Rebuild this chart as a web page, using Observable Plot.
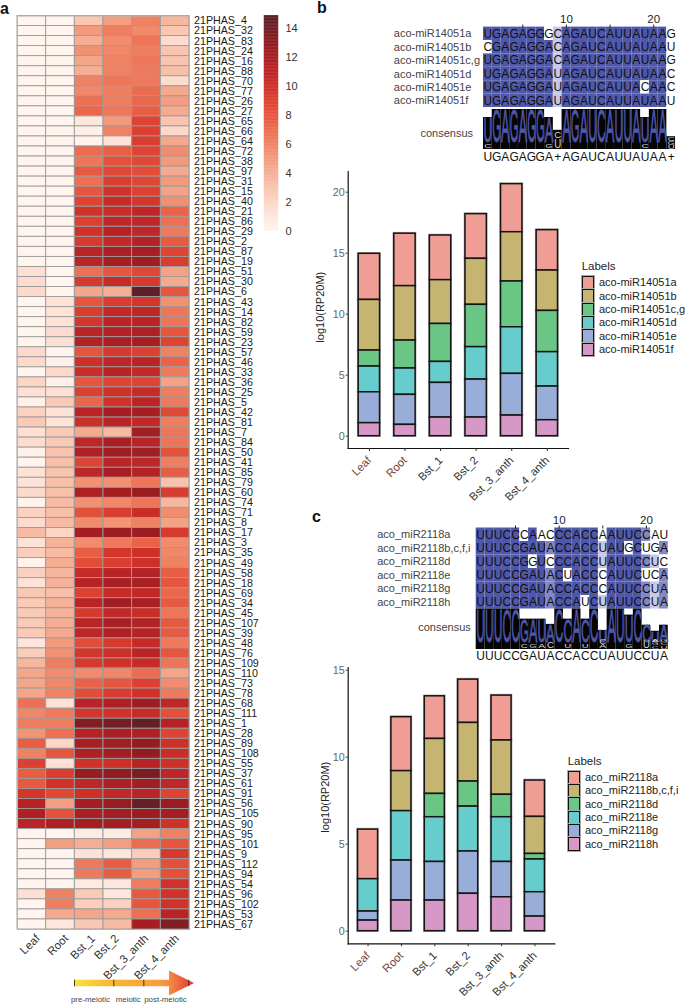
<!DOCTYPE html>
<html><head><meta charset="utf-8">
<script src="https://cdn.jsdelivr.net/npm/d3@7"></script>
<script src="https://cdn.jsdelivr.net/npm/@observablehq/plot@0.6"></script>
<style>
html,body{margin:0;padding:0;background:#fff}
#page{position:relative;width:685px;height:1004px;overflow:hidden;font-family:"Liberation Sans",Arial,sans-serif}
#page svg{position:absolute;left:0;top:0}
.t{position:absolute;white-space:nowrap;color:#222;line-height:1}
.sw{position:absolute;box-sizing:border-box;border:1.6px solid #111;outline:.6px solid #aaa}
</style></head><body><div id="page"></div>
<script>
const stages = ["Leaf","Root","Bst_1","Bst_2","Bst_3_anth","Bst_4_anth"];
const phasIds = [4,32,83,24,16,88,70,77,26,27,65,66,64,72,38,97,31,15,40,21,86,29,2,87,19,51,30,6,43,14,82,59,23,57,46,33,36,25,5,42,81,7,84,50,41,85,79,60,74,71,8,17,3,35,49,58,18,69,34,45,107,39,48,76,109,110,73,78,68,111,1,28,89,108,55,37,61,91,56,105,90,95,101,9,112,94,54,96,102,53,67];
const heatValues = [
[0,0,2.8,4.8,6,3.6],[0,0,5,6.2,5.7,2.8],[0,0,4,5.6,6.6,1.6],[0,0,5.4,5.8,6.2,2.9],[0,0,4.4,6,6.5,3],
[0,0,4,6,6.4,3.2],[0,0,6,6.6,6.4,1.6],[0,0,5.8,6.2,7,4.3],[0,0,6.8,6.2,7.2,4.8],[0,0,7.2,6.5,7.6,4.2],
[0,0,.9,5,8.8,3],[0,0,.3,6,9,1.8],[0,0,.1,1.2,9.2,4.3],[0,0,7,7.6,8.8,5.6],[0,0,6.6,8.2,8.6,5],
[0,0,7.8,8.6,8.4,4.2],[0,0,6.8,9.2,8.6,5],[0,0,8,9.8,9,4.6],[0,0,8.8,10.4,9.6,5.4],[0,0,9.8,10.2,10.8,7.4],
[0,0,9,10.8,10.8,6.8],[0,0,9.8,11.2,10.8,6.4],[0,0,9.4,10.6,11.4,7.8],[0,0,11,11.8,12,8.8],[0,0,11,12,12.3,9.2],
[1.4,0,6.8,8,8.6,4.6],[1.6,0,9.4,10.4,9.4,4.2],[1.8,0,4.4,4,14.7,8],[0,1.3,8,9.2,9.6,5.4],[0,1.3,9.2,10.6,10.8,6.6],
[0,1.3,9.6,11,11,6.6],[0,1.6,11,11.4,11.6,8],[0,1.4,11.4,11.8,12,8.8],[1.8,0,8,9.4,9,6],[1.8,.2,10,10.8,11,7.4],
[0,1.8,10.2,11.2,10.6,6.4],[2,.2,8,8.8,8.8,4.6],[1.4,1.4,9,9.8,10.4,6.2],[.2,2.6,7.2,9.8,11,6.4],[2.2,1.3,11,12,12,8.6],
[2.6,1.3,10,11,10.6,6.2],[1.4,2.6,4.2,3.5,12.2,6.6],[1.6,2.6,10.8,11.8,11,6.6],[.2,3,11.6,12.3,12.2,8.2],[0,3.2,8.8,11,10.8,6.2],
[1.2,3,10.8,12,11.4,7.6],[1.2,3.2,5.4,5.4,6.6,3],[1.8,3.2,11.6,12,12.4,9.2],[.1,3.4,5.4,5.8,6.6,3.6],[2.2,3.2,8.2,9.2,10.2,5.6],
[1.6,3.4,5.6,5.2,6,4.6],[3.4,2,12,12.4,12.4,9.4],[1.2,3.8,5.6,6.4,7.4,5.6],[2.4,3.4,7.6,9.6,10,5.8],[.1,4,8.4,9.2,10,6],
[2.3,3.6,10.4,11,11.4,7.6],[1.2,3.8,11.2,11.8,11.8,8],[2.8,3.2,9,10.4,10.6,7.2],[2.6,3.8,11,12.2,11.8,7.8],[2.6,3.8,9.4,10.6,10.2,6.6],
[2.6,4,11,11.8,11.4,7.8],[2.6,4.2,10.8,11.6,11.2,7.8],[1,5,8.4,9.4,10.4,6.4],[2.4,5.4,9.6,10,11,8],[3.6,6.2,9.4,9.8,10.4,6.6],
[4.4,5.6,5.6,5.8,7,4.4],[4.4,5.8,7.4,8,9,5.6],[4.4,6,8.4,9.2,9.8,6.4],[6.8,1.3,11,11.6,12.4,10.8],[5.8,6.4,9.6,9.8,10.4,8.2],
[6.2,6.2,13.4,13.8,14.6,11.4],[5.2,6.8,11.2,11.8,11.6,8.8],[7.6,2,11.8,12.2,12.8,10],[6,8,11.6,12.2,12.8,10.2],[9,1.3,9.8,10,11.2,10],
[7.6,9.2,12.6,13,13.6,10.8],[7.8,9.8,10.8,11.6,12.2,10.8],[9.6,8.6,10,10.6,11,8.8],[11.2,4.8,12,12.6,14.4,12.6],[11.6,8.2,11.8,12.2,12.4,12],
[11,11.6,12,12.2,12.1,9.8],[0,0,.6,.7,4.6,6],[0,4.8,4,4.8,7,8],[0,0,1.2,1,2.4,9.4],[0,0,6.4,7.6,4.8,8.2],
[0,0,6.4,7.6,4.8,8.2],[0,0,.8,1,6.2,9.8],[1.4,6,2.6,1,7.8,9.8],[0,6.2,2.4,2.2,8,9.8],[0,4.2,4.4,4.2,6.8,11],[0,1,2.8,3.4,12,13.4]
];
const heatDomain = [0,1,2,3,4,5,6,7,8,9,10,11,12,13,14,14.85];
const heatRange = ["#fff4ee","#fde7dc","#fcd5c5","#f9c3ae","#f5ae94","#f39a7c","#f08264","#ec6c50","#e6553e","#dc4030","#cd2f29","#bb2426","#a61e22","#8e1c20","#6e2026","#5a2028"];
const barFills = ["#f09d95","#c5b570","#69c684","#66cccc","#98aed8","#d698c6"];

const labelsB = ["aco-miR14051a","aco-miR14051b","aco-miR14051c,g","aco-miR14051d","aco-miR14051e","aco-miR14051f"];
const barA_b = [3.78,4.3,3.66,3.66,3.94,3.31];
const barB_b = [4.15,4.46,3.59,3.77,4.04,3.31];
const barC_b = [1.31,2.29,3.11,3.47,3.75,3.38];
const barD_b = [2.11,2.16,1.72,2.66,3.82,2.82];
const barE_b = [2.53,2.46,2.84,3.11,3.42,2.76];
const barF_b = [1.07,.93,1.53,1.53,1.69,1.31];

const labelsC = ["aco_miR2118a","aco_miR2118b,c,f,i","aco_miR2118d","aco_miR2118e","aco_miR2118g","aco_miR2118h"];
const barA_c = [2.85,3.1,2.45,2.49,2.58,2.09];
const barB_c = [0,2.3,3.16,3.37,3.12,2.13];
const barD_c = [0,0,1.34,1.44,1.29,.32];
const barE_c = [1.86,2.84,2.57,2.58,2.57,1.88];
const barG_c = [.52,2.3,2.22,2.43,2.03,1.4];
const barH_c = [.61,1.76,1.76,2.15,1.95,.84];

const seqsB = ["UGAGAGGGCAGAUCAUUAUAAG","CGAGAGGACAGAUCAUUAUAAU","UGAGAGGACAGAUCAUUAUAAG","UGAGAGGAUAGAUCAUUAUAAC","UGAGAGGAUAGAUCAUUACAAC","UGAGAGGAUAGAUCAUUAUAAU"];
const seqsC = ["UUUCCCAACCCACCAAUUCCAU","UUUCCGAUACCACCUAUGCUGA","UUUCCGGUCCCACCUAUUCCUC","UUUCCGAUACUACCCAUUCUCA","UUUCCGAUACCACCCAUUCCUA","UUUCCGAUACCAUCUAUUCCUA"];
const consensusB = "UGAGAGGA+AGAUCAUUAUAA+";
const consensusC = "UUUCCGAUACCACCUAUUCCUA";
const logoMainB = "UGAGAGGA AGAUCAUUAUAA ";
const logoHeightB = [.8,1,1,1,1,1,1,.8,.48,1,1,1,1,1,1,1,1,1,.8,1,1,.32];
const logoMinorB = [[1,"C",.04,.15],[8,"G",.04,.15],[9,"U",.03,.27],[9,"C",.29,.45],[19,"C",.04,.15],[22,"U",.02,.1],[22,"G",.11,.2],[22,"C",.21,.3]];
const logoMainC = "UUUCCGAUACCACCUAUUCCUA";
const logoHeightC = [1,1,1,1,1,.75,.75,.75,.62,1,.75,1,.75,1,.47,1,1,.85,1,.6,.45,.6];
const logoMinorC = [[6,"C",.04,.13],[7,"G",.04,.13],[8,"A",.04,.13],[9,"C",.04,.2],[11,"U",.04,.13],[13,"U",.04,.13],[15,"A",.03,.13],[15,"C",.14,.26],[18,"G",.04,.13],[20,"U",.04,.22],[21,"C",.02,.09],[21,"G",.1,.17],[21,"A",.18,.25],[22,"U",.02,.09],[22,"C",.1,.17],[22,"G",.18,.25]];

const arrowStages = ["pre-meiotic","meiotic","post-meiotic"];

const FONT = '"Liberation Sans",Arial,sans-serif';
const page = document.getElementById("page");
const W = 685, H = 1004;
const base = {width:W, height:H, style:{background:"none",fontFamily:FONT,overflow:"visible"}};
function add(opts){ const p = Plot.plot({...base, ...opts}); page.appendChild(p); return p; }
function html(cls, text, left, top, css){
  const d = document.createElement("div"); d.className = cls; if (text) d.textContent = text;
  d.style.left = left+"px"; d.style.top = top+"px"; Object.assign(d.style, css||{}); page.appendChild(d); return d;
}

/* a: heatmap */
const heatLong = phasIds.flatMap((id,i)=>stages.map((s,j)=>({id:"21PHAS_"+id, stage:s, v:heatValues[i][j]})));
const heatShift = {Leaf:6, Root:6, Bst_1:4, Bst_2:-1, Bst_3_anth:0, Bst_4_anth:2};
const colorScale = {type:"linear", domain:heatDomain, range:heatRange};
add({
  marginLeft:17, marginRight:W-189, marginTop:15.5, marginBottom:H-929,
  x:{domain:stages, padding:0, round:false, label:null, axis:null},
  y:{domain:phasIds.map(d=>"21PHAS_"+d), padding:0, round:false, label:null},
  color:colorScale,
  marks:[
    Plot.cell(heatLong,{x:"stage",y:"id",fill:"v",stroke:"#9b9b9b",strokeWidth:.9}),
    Plot.frame({stroke:"#b4b4b4",strokeWidth:1}),
    Plot.axisY({anchor:"right",tickSize:0,tickPadding:4.5,fontSize:10.7,color:"#1a1a1a",label:null}),
    ...stages.map(s=>Plot.text([s],{x:d=>d,frameAnchor:"bottom",lineAnchor:"middle",dx:heatShift[s],dy:7,rotate:-45,textAnchor:"end",fontSize:11.5,fill:"#333"}))
  ]
});

/* colour bar */
const barSteps = d3.range(0,14.85,.1);
add({
  marginLeft:264, marginRight:W-278, marginTop:15.3, marginBottom:H-230.7,
  x:{domain:[0,1],label:null,axis:null},
  y:{domain:[0,14.85],label:null},
  color:colorScale,
  marks:[
    Plot.rect(barSteps,{x1:()=>0,x2:()=>1,y1:d=>d,y2:d=>Math.min(d+.1,14.85),fill:d=>d,stroke:d=>d,strokeWidth:.4}),
    Plot.axisY({anchor:"right",ticks:[0,2,4,6,8,10,12,14],tickSize:0,tickPadding:7,fontSize:11,color:"#333",label:null})
  ]
});

/* stage arrow */
const arrowOutline = [{x:0,h:3.3},{x:95,h:3.3},{x:95,h:12.5},{x:120,h:0}];
const arrowTicks = [0,39.3,69.3,114.3];
const labelAt = [16,53.7,91];
function gradDefs(){
  const ns="http://www.w3.org/2000/svg";
  const defs=document.createElementNS(ns,"defs"), g=document.createElementNS(ns,"linearGradient");
  g.setAttribute("id","arrowGrad");
  [[0,"#f8e23c"],[.3,"#f9b732"],[.7,"#f6a03c"],[.8,"#f18a42"],[.92,"#e8563c"],[1,"#e2333a"]].forEach(([o,c])=>{
    const s=document.createElementNS(ns,"stop"); s.setAttribute("offset",o); s.setAttribute("stop-color",c); g.appendChild(s);
  });
  defs.appendChild(g); return defs;
}
add({
  marginLeft:74, marginRight:W-194, marginTop:970.5, marginBottom:H-995.5,
  x:{domain:[0,120],axis:null}, y:{domain:[-12.5,12.5],axis:null},
  marks:[
    gradDefs,
    Plot.areaY(arrowOutline,{x:"x",y1:d=>-d.h,y2:d=>d.h,fill:"url(#arrowGrad)"}),
    Plot.ruleX(arrowTicks,{x:d=>d,y1:-3.3,y2:3.3,stroke:"#3a2a10",strokeWidth:.9}),
    Plot.text(arrowStages,{x:(d,i)=>labelAt[i],y:-16,text:d=>d,fontSize:7.9,fill:"#444"})
  ]
});

/* stacked bars */
function stackedPanel({labels,series,left,right,top,bottom,y0,unit,ticks,yLabelX,yLabelY}){
  const long = labels.flatMap((l,k)=>stages.map((s,j)=>({label:l,stage:s,v:series[k][j]})));
  const order = labels.slice().reverse();
  const domain = [(y0-bottom)/unit,(y0-top)/unit];
  add({
    marginLeft:left, marginRight:W-right, marginTop:top, marginBottom:H-bottom,
    x:{domain:stages,padding:.4,paddingOuter:.295,round:false,label:null},
    y:{domain,label:null},
    color:{domain:labels,range:barFills},
    marks:[
      Plot.barY(long,{x:"stage",y:"v",z:"label",order,stroke:"#b0b0b0",strokeWidth:2.6}),
      Plot.barY(long,{x:"stage",y:"v",z:"label",order,fill:"label",stroke:"#141414",strokeWidth:1.5}),
      Plot.frame({anchor:"left",stroke:"#111",strokeWidth:1.2}),
      Plot.frame({anchor:"bottom",stroke:"#111",strokeWidth:1.2}),
      Plot.axisY({ticks,tickSize:2,tickPadding:1.5,fontSize:10.8,color:"#666",label:null,stroke:"#333"}),
      Plot.axisX({tickSize:3,tickFormat:()=>"",label:null,stroke:"#333"}),
      Plot.text(stages,{x:d=>d,frameAnchor:"bottom",lineAnchor:"middle",dy:10,rotate:-45,textAnchor:"end",fontSize:11.3,
        fill:d=>(d==="Leaf"||d==="Root")?"#7a3d30":"#333"}),
      Plot.text(["log10(RP20M)"],{y:()=>(y0-yLabelY)/unit,frameAnchor:"left",textAnchor:"middle",lineAnchor:"middle",dx:yLabelX-left,rotate:-90,fontSize:11,fill:"#222"})
    ]
  });
}
stackedPanel({labels:labelsB,series:[barA_b,barB_b,barC_b,barD_b,barE_b,barF_b],
  left:347.7,right:568,top:171,bottom:448,y0:435.7,unit:12.2,ticks:[0,5,10,15,20],yLabelX:320,yLabelY:306.7});
stackedPanel({labels:labelsC,series:[barA_c,barB_c,barD_c,barE_c,barG_c,barH_c],
  left:347.7,right:554.3,top:667,bottom:943.3,y0:930.7,unit:17.4,ticks:[0,5,10,15],yLabelX:325,yLabelY:796.7});

function legend(labels,x,ty,rowYs,textX){
  html("t","Labels",x,ty-6,{fontSize:"11.5px"});
  labels.forEach((l,i)=>{
    html("sw","",x,rowYs[i]-6.7,{width:"12.6px",height:"13.4px",background:barFills[i]});
    html("t",l,textX,rowYs[i]-5.5,{fontSize:"11px",color:"#222"});
  });
}
legend(labelsB,581.7,267,[282.7,296,309.3,322.7,336,349.3],599);
legend(labelsC,567.7,762.3,[777.3,790.7,804,817.3,830.7,844],585);

/* alignments */
function alignment({seqs,names,consensus,logoMain,logoHeight,logoMinor,x0,top,bottom,labelX,consLabelX,consLabelY,logoTop,logoBottom,consY}){
  const positions = d3.range(1,23);
  const x1 = x0 + 22*8.73;
  const cells = [];
  seqs.forEach((s,r)=>{
    [...s].forEach((ch,i)=>{
      const share = seqs.filter(q=>q[i]===ch).length/seqs.length;
      const shade = share>.8?"#4f57ab":share>.6?"#8287c6":share>.4?"#c5c8e7":"#ffffff";
      cells.push({pos:i+1,row:names[r],ch,shade});
    });
  });
  add({
    marginLeft:x0, marginRight:W-x1, marginTop:top, marginBottom:H-bottom,
    x:{domain:positions,padding:0,round:false,label:null},
    y:{domain:names,padding:0,round:false,label:null,axis:null},
    marks:[
      Plot.cell(cells,{x:"pos",y:"row",fill:d=>d.shade}),
      Plot.text(cells,{x:"pos",y:"row",text:"ch",fontSize:12,fill:"#111"}),
      Plot.text(names,{y:d=>d,frameAnchor:"left",lineAnchor:"middle",dx:labelX-x0,textAnchor:"start",fontSize:11,fill:"#444"}),
      Plot.axisX({anchor:"top",ticks:[5,10,15,20],tickSize:3,tickPadding:1,fontSize:11.5,color:"#222",
        tickFormat:d=>d%10===0?d:"",label:null})
    ]
  });
  const logoH = logoBottom-logoTop;
  const fs = (a,b)=>(b-a)*logoH/.72;
  const main = positions.map((p,i)=>({pos:p,ch:logoMain[i],a:.18,b:logoHeight[i]})).filter(d=>d.ch!==" ");
  const minor = logoMinor.map(([pos,ch,a,b])=>({pos,ch,a,b}));
  const logo = add({
    marginLeft:x0, marginRight:W-x1, marginTop:logoTop, marginBottom:H-logoBottom,
    x:{domain:positions,padding:0,round:false,label:null,axis:null},
    y:{domain:[0,1],axis:null},
    marks:[
      Plot.barY(positions,{x:d=>d,y:(d,i)=>logoHeight[i],fill:"#050505"}),
      Plot.text(main,{x:"pos",y:"a",text:"ch",lineAnchor:"bottom",fontSize:d=>fs(d.a,d.b),fill:"#4f56ad",stroke:"#4f56ad",strokeWidth:.8}),
      Plot.text(minor,{x:"pos",y:"a",text:"ch",lineAnchor:"bottom",fontSize:d=>fs(d.a,d.b),fill:"#d8d8d8"}),
      Plot.text([...consensus].map((ch,i)=>({ch,pos:i+1})),{x:"pos",frameAnchor:"bottom",lineAnchor:"middle",dy:consY-logoBottom,text:"ch",fontSize:12,fill:"#111"}),
      Plot.text(["consensus"],{frameAnchor:"left",lineAnchor:"middle",dx:consLabelX-x0,y:()=>(logoBottom-consLabelY)/logoH,textAnchor:"start",fontSize:11,fill:"#444"})
    ]
  });
  logo.querySelectorAll("text[font-size]").forEach(t=>{
    const big = +t.getAttribute("font-size")>=14;
    t.setAttribute("textLength",big?8.6:7);
    t.setAttribute("lengthAdjust","spacingAndGlyphs");
  });
}
alignment({seqs:seqsB,names:["aco-miR14051a","aco-miR14051b","aco-miR14051c,g","aco-miR14051d","aco-miR14051e","aco-miR14051f"],
  consensus:consensusB,logoMain:logoMainB,logoHeight:logoHeightB,logoMinor:logoMinorB,
  x0:483,top:26.6,bottom:107,labelX:393.3,consLabelX:420,consLabelY:133.3,logoTop:109,logoBottom:149,consY:157});
alignment({seqs:seqsC,names:["aco_miR2118a","aco_miR2118b,c,f,i","aco_miR2118d","aco_miR2118e","aco_miR2118g","aco_miR2118h"],
  consensus:consensusC,logoMain:logoMainC,logoHeight:logoHeightC,logoMinor:logoMinorC,
  x0:475.7,top:527.5,bottom:608.5,labelX:376.7,consLabelX:417.7,consLabelY:626.7,logoTop:608.5,logoBottom:649,consY:655.7});

/* panel letters */
html("t","a",0,1,{fontSize:"16px",fontWeight:"bold",color:"#111"});
html("t","b",317,0,{fontSize:"16px",fontWeight:"bold",color:"#111"});
html("t","c",312,509,{fontSize:"16px",fontWeight:"bold",color:"#111"});
</script></body></html>
